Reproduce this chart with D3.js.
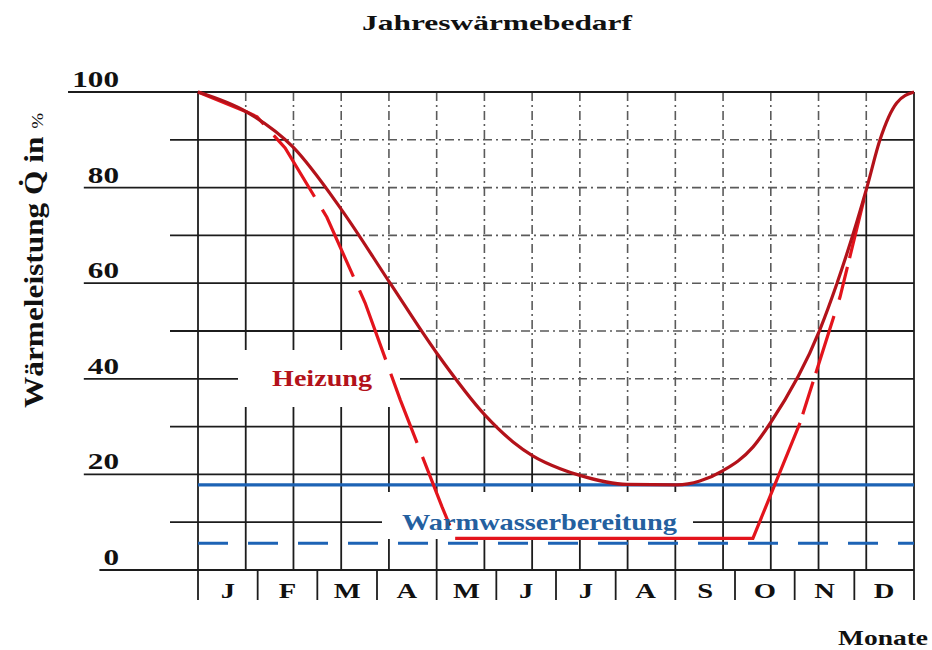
<!DOCTYPE html>
<html>
<head>
<meta charset="utf-8">
<script src="https://cdn.jsdelivr.net/npm/d3@7"></script>
<style>
  body { margin: 0; background: #ffffff; }
  text { font-family: "Liberation Serif", "Times New Roman", serif; font-weight: bold; }
</style>
</head>
<body>
<div id="chart"></div>
<script>
// Data (x in months from 1 Jan, y in % of peak heat load)
const monthLabels = ['J', 'F', 'M', 'A', 'M', 'J', 'J', 'A', 'S', 'O', 'N', 'D'];
const yTickLabels = [0, 20, 40, 60, 80, 100];
const gridValues = [0, 10, 20, 30, 40, 50, 60, 70, 80, 90, 100];
const gridColumns = 15;

const heizungMonths = [0, 0.82, 1.59, 2.41, 3.22, 4.0, 4.81, 5.28, 5.61, 6.07, 6.4, 7.19, 8.03, 8.41, 8.8, 9.3, 9.59, 10.42, 10.71, 11.21, 11.43, 11.71, 12];
const heizungValues = [100, 95.8, 88.5, 75.3, 60, 45.4, 32.4, 26.8, 23.9, 21.2, 19.8, 17.9, 17.8, 18.6, 20.8, 25.7, 30.7, 50.2, 60, 80, 90, 97.7, 100];

// saving scenario: dashed descent, solid floor, dashed ascent
const heizungSparMonths = [0, 0.82, 0.99, 1.46, 2.16, 2.8, 3.39, 4.09, 4.31, 9.3, 10.09, 10.76, 11.21];
const heizungSparValues = [100, 95.8, 94.8, 88.3, 73.8, 55.9, 35.6, 13.2, 6.6, 6.6, 30.8, 57.1, 80];

const warmwasserValue = 17.8;
const warmwasserSparValue = 5.6;

const Constants = {
  width: 932,
  height: 650,
  left: 198,
  right: 914,
  top: 92,
  bottom: 570,
  monthTickLength: 30,
  minorGridStart: 170,
  labelEnd: 119,
  textStretch: 1.3,
  gridColor: '#1c1c1c',
  dashGridColor: '#5a5a5a',
  heizColor: '#b3121a',
  heizSparColor: '#e3141c',
  blue: '#1d63b5',
  blueText: '#24609f',
};

const svg = d3
  .select('#chart')
  .append('svg')
  .attr('width', Constants.width)
  .attr('height', Constants.height)
  .attr('xmlns', 'http://www.w3.org/2000/svg');

const x = d3.scaleLinear().domain([0, 12]).range([Constants.left, Constants.right]);
const y = d3.scaleLinear().domain([0, 100]).range([Constants.bottom, Constants.top]);

const heizung = heizungMonths.map((m, i) => ({ m, v: heizungValues[i] }));
const heizungSpar = heizungSparMonths.map((m, i) => ({ m, v: heizungSparValues[i] }));

const heizungLine = d3
  .line()
  .x(d => x(d.m))
  .y(d => y(d.v))
  .curve(d3.curveMonotoneX);

const straightLine = d3
  .line()
  .x(d => x(d.m))
  .y(d => y(d.v));

const aboveArea = d3
  .area()
  .x(d => x(d.m))
  .y0(y(100))
  .y1(d => y(d.v))
  .curve(d3.curveMonotoneX);

svg
  .append('defs')
  .append('clipPath')
  .attr('id', 'above-curve')
  .append('path')
  .attr('d', aboveArea(heizung));

// Tick labels on the left first, the major grid lines start under them
const yLabels = svg
  .append('g')
  .selectAll('text')
  .data(yTickLabels)
  .enter()
  .append('text')
  .attr('text-anchor', 'end')
  .attr('font-size', 24)
  .attr('fill', '#111')
  .attr('transform', d => `translate(${Constants.labelEnd},${y(d) - 5}) scale(${Constants.textStretch},1)`)
  .text(d => d);

const labelStart = {};
yLabels.each(function (d) {
  labelStart[d] = Constants.labelEnd - this.getComputedTextLength() * Constants.textStretch - 4;
});

// Solid grid (below the heating curve)
const solidGrid = svg.append('g').attr('stroke', Constants.gridColor).attr('stroke-width', 1.8);

solidGrid
  .selectAll('.h-line')
  .data(gridValues)
  .enter()
  .append('line')
  .attr('x1', v => (v in labelStart ? labelStart[v] : Constants.minorGridStart))
  .attr('x2', x(12))
  .attr('y1', v => y(v))
  .attr('y2', v => y(v));

solidGrid
  .selectAll('.v-line')
  .data(d3.range(gridColumns + 1))
  .enter()
  .append('line')
  .attr('x1', i => x((i * 12) / gridColumns))
  .attr('x2', i => x((i * 12) / gridColumns))
  .attr('y1', y(100))
  .attr('y2', y(0));

solidGrid
  .selectAll('.month-tick')
  .data(d3.range(13))
  .enter()
  .append('line')
  .attr('x1', i => x(i))
  .attr('x2', i => x(i))
  .attr('y1', y(0))
  .attr('y2', y(0) + Constants.monthTickLength);

// Above the curve the grid is dash-dotted
svg.append('path').attr('d', aboveArea(heizung)).attr('fill', '#ffffff');

const dashGrid = svg
  .append('g')
  .attr('clip-path', 'url(#above-curve)')
  .attr('stroke', Constants.dashGridColor)
  .attr('stroke-width', 1.6)
  .attr('stroke-dasharray', '9,4,2,4');

dashGrid
  .selectAll('.h-line')
  .data(gridValues)
  .enter()
  .append('line')
  .attr('x1', x(0))
  .attr('x2', x(12))
  .attr('y1', v => y(v))
  .attr('y2', v => y(v));

dashGrid
  .selectAll('.v-line')
  .data(d3.range(gridColumns + 1))
  .enter()
  .append('line')
  .attr('x1', i => x((i * 12) / gridColumns))
  .attr('x2', i => x((i * 12) / gridColumns))
  .attr('y1', y(100))
  .attr('y2', y(0));

svg
  .append('line')
  .attr('x1', labelStart[100])
  .attr('x2', x(12))
  .attr('y1', y(100))
  .attr('y2', y(100))
  .attr('stroke', Constants.gridColor)
  .attr('stroke-width', 1.8);

// White boxes behind the two series names
const boxLayer = svg.append('g').attr('fill', '#ffffff');
boxLayer.append('rect').attr('x', 238).attr('y', 350).attr('width', 162).attr('height', 57);
boxLayer.append('rect').attr('x', 382).attr('y', 492).attr('width', 311).attr('height', 47);

// Hot water lines
svg
  .append('line')
  .attr('x1', x(0))
  .attr('x2', x(12))
  .attr('y1', y(warmwasserValue))
  .attr('y2', y(warmwasserValue))
  .attr('stroke', Constants.blue)
  .attr('stroke-width', 3.2);

svg
  .append('line')
  .attr('x1', x(0))
  .attr('x2', x(12))
  .attr('y1', y(warmwasserSparValue))
  .attr('y2', y(warmwasserSparValue))
  .attr('stroke', Constants.blue)
  .attr('stroke-width', 3.2)
  .attr('stroke-dasharray', '30,20');

// Heating curves: the saving curve is dashed on its slopes, solid on the floor
const sparGroup = svg
  .append('g')
  .attr('fill', 'none')
  .attr('stroke', Constants.heizSparColor)
  .attr('stroke-width', 3.2);

sparGroup
  .append('path')
  .attr('d', straightLine(heizungSpar.slice(0, 9)))
  .attr('stroke-dasharray', '74,15');

sparGroup.append('path').attr('d', straightLine(heizungSpar.slice(8, 11)));

sparGroup
  .append('path')
  .attr('d', straightLine(heizungSpar.slice(10)))
  .attr('stroke-dasharray', '0,9,34,9,60,8');

svg
  .append('path')
  .attr('d', heizungLine(heizung))
  .attr('fill', 'none')
  .attr('stroke', Constants.heizColor)
  .attr('stroke-width', 3.2);

// Month labels
svg
  .append('g')
  .selectAll('text')
  .data(monthLabels)
  .enter()
  .append('text')
  .attr('text-anchor', 'middle')
  .attr('font-size', 22)
  .attr('fill', '#111')
  .attr('transform', (d, i) => `translate(${x(i + 0.5)},${y(0) + 28}) scale(${Constants.textStretch},1)`)
  .text(d => d);

// Titles and names
svg
  .append('text')
  .attr('x', 362)
  .attr('y', 30)
  .attr('font-size', 22)
  .attr('textLength', 270)
  .attr('lengthAdjust', 'spacingAndGlyphs')
  .attr('fill', '#111')
  .text('Jahreswärmebedarf');

svg
  .append('text')
  .attr('x', 272)
  .attr('y', 386)
  .attr('font-size', 23)
  .attr('textLength', 100)
  .attr('lengthAdjust', 'spacingAndGlyphs')
  .attr('fill', Constants.heizColor)
  .text('Heizung');

svg
  .append('text')
  .attr('x', 402)
  .attr('y', 530)
  .attr('font-size', 24)
  .attr('textLength', 275)
  .attr('lengthAdjust', 'spacingAndGlyphs')
  .attr('fill', Constants.blueText)
  .text('Warmwasserbereitung');

svg
  .append('text')
  .attr('x', 838)
  .attr('y', 645)
  .attr('font-size', 22)
  .attr('textLength', 90)
  .attr('lengthAdjust', 'spacingAndGlyphs')
  .attr('fill', '#111')
  .text('Monate');

const yTitle = svg
  .append('text')
  .attr('transform', 'translate(43,408) rotate(-90)')
  .attr('font-size', 28)
  .attr('textLength', 295)
  .attr('lengthAdjust', 'spacingAndGlyphs')
  .attr('fill', '#111');
yTitle.append('tspan').text('Wärmeleistung ');
yTitle.append('tspan').text('Q\u0307');
yTitle.append('tspan').text(' in  ');
yTitle.append('tspan').attr('font-size', 17).attr('font-weight', 'normal').text('%');
</script>
</body>
</html>
